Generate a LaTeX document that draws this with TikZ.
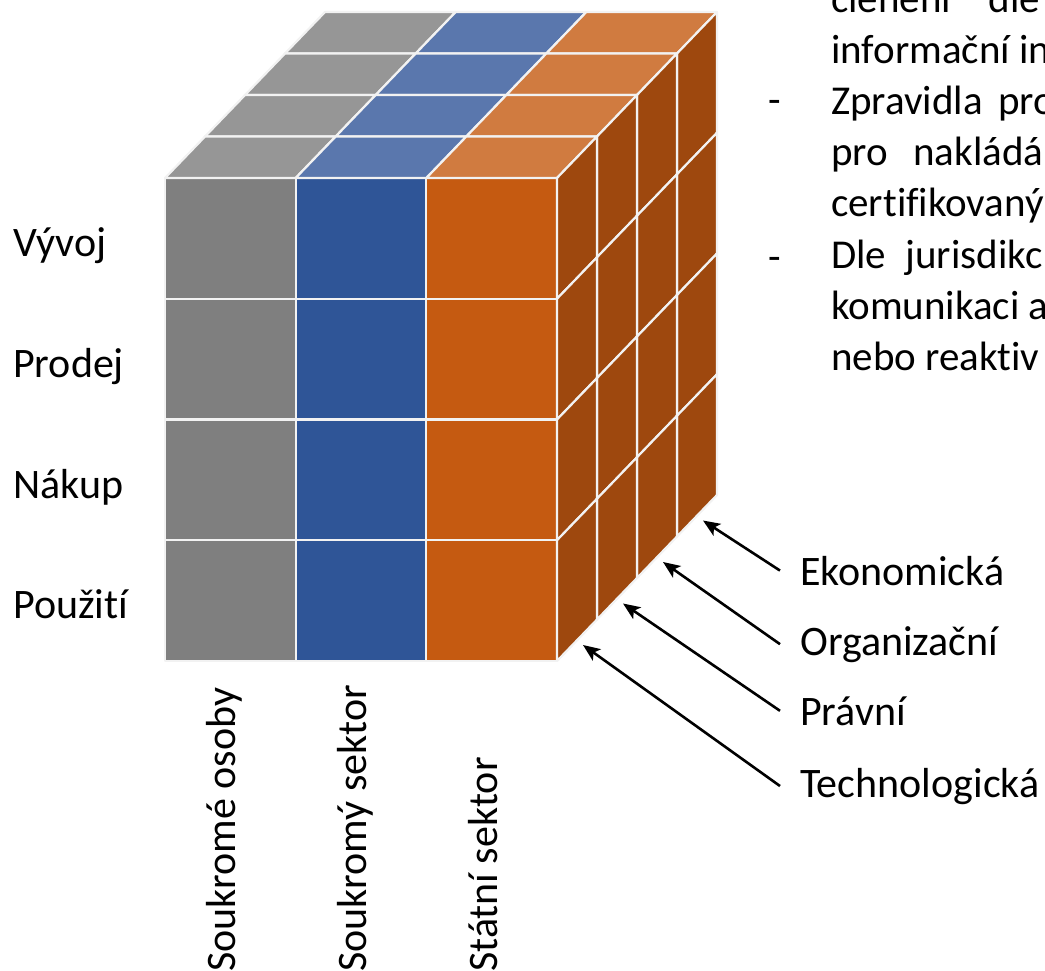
\documentclass[tikz,border=0pt]{standalone}
\usepackage{fontspec}
\setmainfont{Carlito}[Ligatures={NoCommon}]
\usetikzlibrary{arrows.meta}

\definecolor{grayfront}{HTML}{7F7F7F}
\definecolor{graytop}{HTML}{969696}
\definecolor{bluefront}{HTML}{2F5597}
\definecolor{bluetop}{HTML}{5A77AD}
\definecolor{orangefront}{HTML}{C55A11}
\definecolor{orangetop}{HTML}{D07B40}
\definecolor{orangeside}{HTML}{9E480E}
\definecolor{gridline}{HTML}{F2F2F2}

\begin{document}
\begin{tikzpicture}[
            x=1pt, y=-1pt,
            cell/.style={draw=gridline, line width=2.2pt, line join=round},
            txt/.style={font=\fontsize{42}{51}\selectfont, inner sep=0pt},
            bodytxt/.style={font=\fontsize{41}{51}\selectfont, inner sep=0pt},
            arr/.style={-{Stealth[length=17pt, width=14pt, inset=4pt]}, line width=2.6pt, black},
            declare function = {
                ox(\k) = 40*(\k-1);
                oy(\k) = -41.5*(\k-1);
            }
        ]
            \path[use as bounding box, clip] (0,0) rectangle (1045,970);

            % four layers, drawn from the back one to the front one
            \foreach \k in {4,3,2,1} {
                \foreach \c/\front/\top in {0/grayfront/graytop, 1/bluefront/bluetop, 2/orangefront/orangetop} {
                    \foreach \r in {0,...,3}
                        \filldraw[cell, fill=\front] ({165+130.67*\c+ox(\k)}, {178+120.75*\r+oy(\k)}) rectangle ++(130.67,120.75);
                    \filldraw[cell, fill=\top] ({165+130.67*\c+ox(\k)}, {178+oy(\k)}) -- ++(130.67,0) -- ++(40,-41.5) -- ++(-130.67,0) -- cycle;
                }
                \foreach \r in {0,...,3}
                    \filldraw[cell, fill=orangeside] ({557+ox(\k)}, {178+120.75*\r+oy(\k)}) -- ++(40,-41.5) -- ++(0,120.75) -- ++(-40,41.5) -- cycle;
                \coordinate (tip\k) at ({583+ox(\k)}, {645+oy(\k)});
            }

            \node[txt, anchor=base west] (vyvoj) at (13,256) {Vývoj};
            \node[txt, anchor=base west] (prodej) at (13,377) {Prodej};
            \node[txt, anchor=base west] (nakup) at (13,498) {Nákup};
            \node[txt, anchor=base west] (pouziti) at (13,618) {Použití};

            \node[txt, rotate=90, anchor=base west] (osoby) at (235,972) {Soukromé osoby};
            \node[txt, rotate=90, anchor=base west] (soukr) at (366,972) {Soukromý sektor};
            \node[txt, rotate=90, anchor=base west] (statni) at (497,972) {Státní sektor};

            \node[txt, inner xsep=20pt, anchor=base west] (ekon) at (780,585) {Ekonomická};
            \node[txt, inner xsep=20pt, anchor=base west] (organ) at (780,655) {Organizační};
            \node[txt, inner xsep=20pt, anchor=base west] (pravni) at (780,725) {Právní};
            \node[txt, inner xsep=20pt, anchor=base west] (techno) at (780,797) {Technologická};

            \draw[arr] (ekon.west) -- (tip4);
            \draw[arr] (organ.west) -- (tip3);
            \draw[arr] (pravni.west) -- (tip2);
            \draw[arr] (techno.west) -- (tip1);

            \node[bodytxt, anchor=base west] (dash1) at (768,113) {-};
            \node[bodytxt, anchor=base west] (dash2) at (768,270) {-};

            \node[bodytxt, anchor=base west] (line1) at (831,12) {členění\hspace{28pt} dle};
            \node[bodytxt, anchor=base west] (line2) at (831,63) {informační in};
            \node[bodytxt, anchor=base west] (line3) at (831,114) {Zpravidla\hspace{6pt} pro};
            \node[bodytxt, anchor=base west] (line4) at (831,165) {pro\hspace{16pt} nakládá};
            \node[bodytxt, anchor=base west] (line5) at (831,216) {certifikovaný};
            \node[bodytxt, anchor=base west] (line6) at (831,268) {Dle\hspace{10pt} jurisdikc};
            \node[bodytxt, anchor=base west] (line7) at (831,319) {komunikaci a};
            \node[bodytxt, anchor=base west] (line8) at (831,370) {nebo reaktiv};
        \end{tikzpicture}
\end{document}
